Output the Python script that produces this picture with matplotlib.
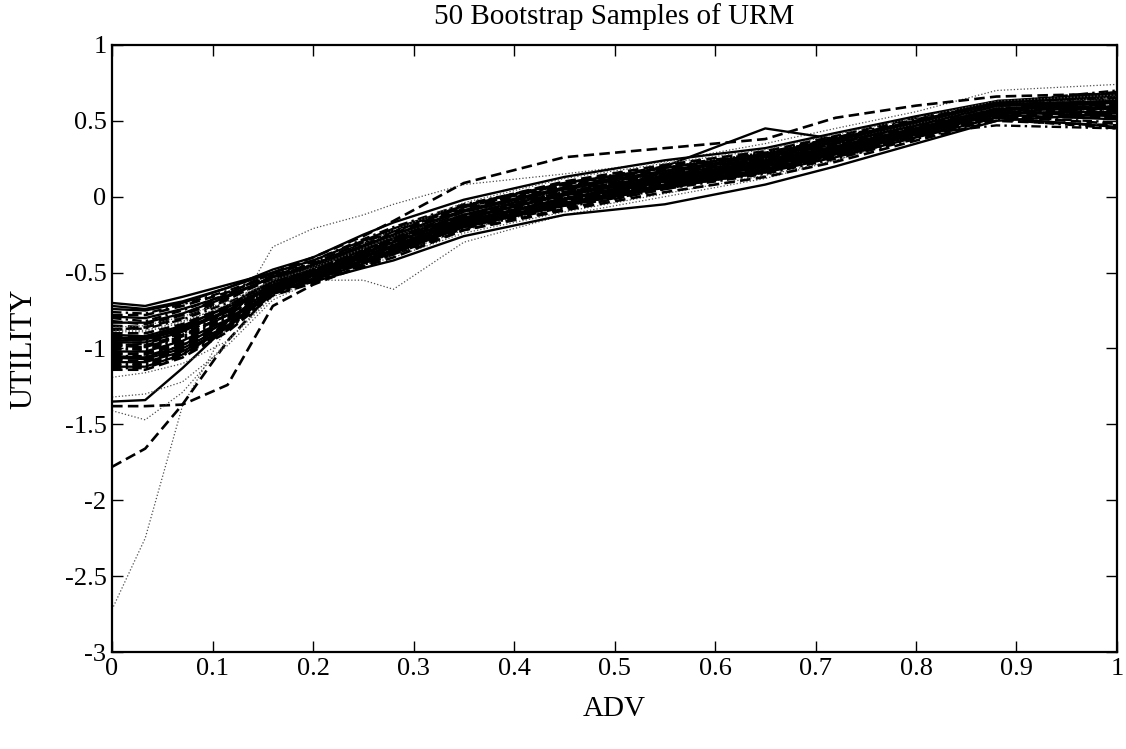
import numpy as np
import matplotlib
matplotlib.use("Agg")
import matplotlib.pyplot as plt

plt.rcParams['font.family'] = ['Liberation Serif', 'DejaVu Serif']

# ADV grid where the curves are evaluated
adv = [0, 0.033, 0.07, 0.115, 0.16, 0.2, 0.25, 0.28, 0.35, 0.45, 0.55, 0.65, 0.72, 0.8, 0.88, 1.0]

# 50 bootstrap utility curves and their line styles
curves = [
    [-2.72, -2.25, -1.38, -0.85, -0.33, -0.21, -0.12, -0.05, 0.08, 0.15, 0.23, 0.35, 0.45, 0.56, 0.70, 0.74],
    [-1.78, -1.66, -1.37, -0.95, -0.62, -0.52, -0.40, -0.33, -0.18, -0.02, 0.12, 0.24, 0.33, 0.45, 0.58, 0.62],
    [-1.38, -1.38, -1.37, -1.24, -0.72, -0.58, -0.45, -0.38, -0.22, -0.08, 0.05, 0.18, 0.28, 0.42, 0.56, 0.60],
    [-1.35, -1.34, -1.13, -0.85, -0.62, -0.52, -0.42, -0.36, -0.20, -0.05, 0.08, 0.20, 0.30, 0.44, 0.57, 0.58],
    [-1.41, -1.47, -1.29, -0.95, -0.66, -0.55, -0.45, -0.40, -0.24, -0.10, 0.02, 0.14, 0.24, 0.40, 0.55, 0.57],
    [-1.32, -1.30, -1.22, -0.98, -0.68, -0.56, -0.44, -0.38, -0.22, -0.06, 0.06, 0.18, 0.28, 0.42, 0.56, 0.62],
    [-1.19, -1.16, -1.10, -0.95, -0.64, -0.55, -0.55, -0.61, -0.30, -0.12, 0.00, 0.12, 0.24, 0.40, 0.56, 0.65],
    [-0.95, -0.94, -0.86, -0.72, -0.55, -0.46, -0.34, -0.27, -0.12, 0.05, 0.20, 0.45, 0.38, 0.50, 0.62, 0.66],
    [-0.88, -0.86, -0.78, -0.64, -0.50, -0.40, -0.26, -0.16, 0.09, 0.26, 0.32, 0.38, 0.52, 0.60, 0.66, 0.68],
    [-0.70, -0.72, -0.66, -0.58, -0.50, -0.50, -0.40, -0.32, -0.15, 0.02, 0.14, 0.25, 0.35, 0.47, 0.60, 0.62],
    [-1.05, -1.06, -0.98, -0.82, -0.62, -0.56, -0.47, -0.42, -0.26, -0.12, -0.05, 0.08, 0.20, 0.35, 0.50, 0.55],
    [-0.98, -0.99, -0.92, -0.78, -0.59, -0.51, -0.40, -0.33, -0.18, -0.05, 0.07, 0.18, 0.29, 0.40, 0.52, 0.60],
    [-0.74, -0.75, -0.70, -0.60, -0.48, -0.40, -0.25, -0.17, -0.02, 0.13, 0.24, 0.32, 0.42, 0.53, 0.63, 0.68],
    [-0.78, -0.78, -0.72, -0.63, -0.52, -0.44, -0.30, -0.22, -0.06, 0.10, 0.21, 0.30, 0.40, 0.52, 0.62, 0.66],
    [-0.80, -0.82, -0.75, -0.64, -0.50, -0.42, -0.28, -0.20, -0.05, 0.09, 0.20, 0.29, 0.38, 0.50, 0.61, 0.64],
    [-0.83, -0.83, -0.77, -0.66, -0.53, -0.46, -0.33, -0.26, -0.10, 0.05, 0.16, 0.26, 0.36, 0.47, 0.60, 0.62],
    [-0.85, -0.86, -0.80, -0.68, -0.52, -0.45, -0.32, -0.24, -0.08, 0.07, 0.18, 0.28, 0.39, 0.49, 0.63, 0.65],
    [-0.87, -0.87, -0.81, -0.70, -0.56, -0.48, -0.36, -0.29, -0.13, 0.02, 0.13, 0.23, 0.33, 0.45, 0.58, 0.60],
    [-0.89, -0.89, -0.83, -0.71, -0.55, -0.47, -0.34, -0.27, -0.11, 0.04, 0.15, 0.25, 0.35, 0.46, 0.59, 0.66],
    [-0.91, -0.92, -0.85, -0.73, -0.57, -0.49, -0.37, -0.30, -0.14, 0.01, 0.12, 0.22, 0.32, 0.44, 0.57, 0.63],
    [-0.92, -0.92, -0.86, -0.74, -0.58, -0.48, -0.35, -0.28, -0.12, 0.03, 0.14, 0.24, 0.34, 0.46, 0.60, 0.69],
    [-0.94, -0.95, -0.88, -0.76, -0.59, -0.50, -0.38, -0.31, -0.15, 0.00, 0.11, 0.21, 0.31, 0.43, 0.56, 0.55],
    [-0.96, -0.96, -0.89, -0.75, -0.56, -0.47, -0.33, -0.25, -0.09, 0.06, 0.17, 0.27, 0.37, 0.48, 0.61, 0.58],
    [-0.97, -0.98, -0.91, -0.78, -0.60, -0.52, -0.40, -0.33, -0.17, -0.02, 0.10, 0.20, 0.30, 0.42, 0.55, 0.52],
    [-0.99, -0.99, -0.92, -0.78, -0.58, -0.49, -0.36, -0.29, -0.13, 0.02, 0.13, 0.23, 0.33, 0.45, 0.58, 0.61],
    [-1.00, -1.01, -0.94, -0.80, -0.61, -0.53, -0.41, -0.34, -0.18, -0.03, 0.09, 0.19, 0.29, 0.41, 0.47, 0.45],
    [-1.02, -1.02, -0.95, -0.81, -0.60, -0.51, -0.38, -0.30, -0.14, 0.01, 0.12, 0.22, 0.32, 0.44, 0.57, 0.64],
    [-1.03, -1.04, -0.97, -0.83, -0.62, -0.54, -0.43, -0.36, -0.19, -0.05, 0.07, 0.17, 0.27, 0.40, 0.53, 0.48],
    [-1.05, -1.05, -0.98, -0.82, -0.61, -0.52, -0.39, -0.32, -0.16, -0.01, 0.11, 0.21, 0.31, 0.43, 0.56, 0.57],
    [-1.06, -1.07, -1.00, -0.85, -0.63, -0.55, -0.44, -0.37, -0.20, -0.06, 0.06, 0.16, 0.26, 0.39, 0.52, 0.46],
    [-1.08, -1.08, -1.01, -0.84, -0.62, -0.53, -0.40, -0.33, -0.16, -0.02, 0.10, 0.20, 0.31, 0.44, 0.57, 0.59],
    [-1.10, -1.10, -1.03, -0.87, -0.64, -0.56, -0.45, -0.38, -0.21, -0.07, 0.05, 0.15, 0.25, 0.38, 0.51, 0.45],
    [-1.12, -1.12, -1.04, -0.86, -0.63, -0.54, -0.42, -0.35, -0.18, -0.04, 0.08, 0.18, 0.29, 0.42, 0.55, 0.56],
    [-1.14, -1.14, -1.06, -0.89, -0.65, -0.57, -0.46, -0.40, -0.22, -0.09, 0.03, 0.13, 0.23, 0.37, 0.50, 0.47],
    [-0.72, -0.74, -0.69, -0.60, -0.50, -0.42, -0.29, -0.21, -0.06, 0.09, 0.19, 0.28, 0.38, 0.50, 0.62, 0.67],
    [-0.76, -0.77, -0.71, -0.62, -0.51, -0.43, -0.31, -0.23, -0.07, 0.08, 0.19, 0.29, 0.39, 0.51, 0.62, 0.70],
    [-0.82, -0.84, -0.78, -0.67, -0.54, -0.47, -0.35, -0.28, -0.12, 0.03, 0.15, 0.25, 0.35, 0.47, 0.60, 0.61],
    [-0.88, -0.88, -0.82, -0.72, -0.57, -0.46, -0.31, -0.22, -0.04, 0.12, 0.22, 0.31, 0.41, 0.52, 0.63, 0.67],
    [-0.93, -0.93, -0.87, -0.75, -0.59, -0.51, -0.39, -0.32, -0.16, -0.01, 0.11, 0.21, 0.31, 0.43, 0.56, 0.53],
    [-0.98, -0.97, -0.90, -0.77, -0.57, -0.45, -0.30, -0.23, -0.07, 0.08, 0.19, 0.28, 0.38, 0.49, 0.62, 0.65],
    [-1.04, -1.03, -0.96, -0.82, -0.61, -0.52, -0.40, -0.33, -0.17, -0.03, 0.09, 0.19, 0.30, 0.43, 0.56, 0.54],
    [-1.09, -1.09, -1.02, -0.86, -0.63, -0.54, -0.42, -0.35, -0.19, -0.05, 0.07, 0.17, 0.28, 0.41, 0.54, 0.51],
    [-1.13, -1.13, -1.05, -0.88, -0.64, -0.55, -0.43, -0.36, -0.20, -0.06, 0.06, 0.16, 0.27, 0.40, 0.53, 0.49],
    [-0.90, -0.90, -0.84, -0.72, -0.56, -0.48, -0.35, -0.27, -0.10, 0.05, 0.16, 0.26, 0.36, 0.48, 0.61, 0.62],
    [-0.95, -0.94, -0.88, -0.76, -0.58, -0.50, -0.37, -0.30, -0.14, 0.01, 0.13, 0.23, 0.33, 0.45, 0.58, 0.59],
    [-1.01, -1.00, -0.93, -0.79, -0.59, -0.50, -0.37, -0.29, -0.12, 0.04, 0.15, 0.25, 0.35, 0.47, 0.60, 0.63],
    [-0.86, -0.85, -0.79, -0.69, -0.55, -0.47, -0.34, -0.26, -0.09, 0.06, 0.17, 0.27, 0.37, 0.48, 0.61, 0.64],
    [-1.07, -1.06, -0.99, -0.84, -0.62, -0.53, -0.41, -0.34, -0.17, -0.03, 0.09, 0.20, 0.30, 0.42, 0.55, 0.55],
    [-0.79, -0.80, -0.74, -0.65, -0.53, -0.45, -0.32, -0.25, -0.09, 0.06, 0.17, 0.27, 0.37, 0.49, 0.61, 0.63],
    [-1.11, -1.11, -1.04, -0.87, -0.64, -0.55, -0.43, -0.36, -0.19, -0.05, 0.07, 0.17, 0.27, 0.40, 0.53, 0.52],
]
styles = [':', '--', '--', '-', ':', ':', ':', '-', '--', '-', '-', '--',
          '-', '--', '-.', '-', '--', '-.', ':', '-', '--', '-.', '-', '--',
          '-.', '-.', '-', '--', '-.', '-', '--', '-.', '-', '--', '-', '-.',
          '--', ':', '-', '-.', '--', '-', '-.', '--', '-', '-.', ':', '--', '-', '-.']

fig = plt.figure(figsize=(11.26, 7.49), dpi=100)
ax = fig.add_axes([0.0995, 0.1295, 0.8925, 0.8105])

for y, ls in zip(curves, styles):
    if ls == ':':
        ax.plot(adv, y, ls, color='0.3', lw=0.9)
    elif ls == '--':
        ax.plot(adv, y, color='black', lw=1.9, dashes=(4, 2))
    elif ls == '-.':
        ax.plot(adv, y, color='black', lw=1.7, dashes=(4, 1.8, 1, 1.8))
    else:
        ax.plot(adv, y, '-', color='black', lw=1.7)

ax.set_xlim(0, 1)
ax.set_ylim(-3, 1)
ax.set_xticks(np.arange(0, 1.01, 0.1))
ax.set_xticklabels(['0', '0.1', '0.2', '0.3', '0.4', '0.5', '0.6', '0.7', '0.8', '0.9', '1'])
ax.set_yticks(np.arange(-3, 1.01, 0.5))
ax.set_yticklabels(['-3', '-2.5', '-2', '-1.5', '-1', '-0.5', '0', '0.5', '1'])
ax.tick_params(direction='in', top=True, right=True, length=8, width=1,
               labelsize=19, pad=4)
for s in ax.spines.values():
    s.set_linewidth(1.6)

ax.set_title('50 Bootstrap Samples of URM', fontsize=21, pad=15)
ax.set_xlabel('ADV', fontsize=21, labelpad=12)
ax.set_ylabel('UTILITY', fontsize=22, labelpad=19)

fig.savefig('out.png', dpi=100)
